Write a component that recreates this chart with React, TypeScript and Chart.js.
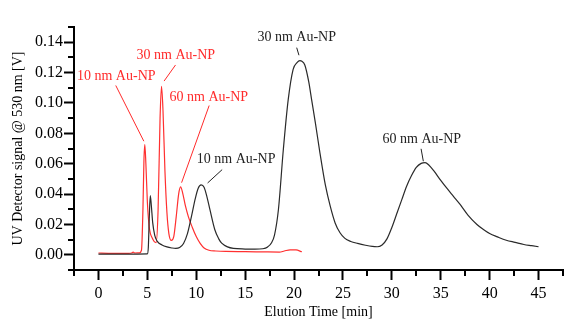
import React, { useEffect, useRef } from "react";
import { Chart, registerables } from "chart.js";

Chart.register(...registerables);

// Elution time [min] and UV detector signal [V]
const blackTime = [0, 2, 4, 5.0, 5.1, 5.2, 5.3, 5.4, 5.55, 5.75, 6.0, 6.5, 7.0, 7.5, 7.9, 8.3, 8.7, 9.1, 9.5, 9.9, 10.2, 10.5, 10.8, 11.1, 11.4, 11.9, 12.3, 12.6, 13.2, 13.8, 15, 16, 16.8, 17.3, 17.7, 18.0, 18.4, 18.9, 19.4, 19.9, 20.3, 20.6, 20.8, 21.1, 21.5, 21.8, 22.2, 22.65, 23.2, 23.7, 24.2, 24.7, 25.2, 25.8, 26.5, 27.3, 28.0, 28.5, 29.0, 29.5, 30.0, 30.5, 31.0, 31.5, 32.0, 32.5, 33.0, 33.4, 33.8, 34.3, 35.0, 35.6, 36.3, 37.0, 37.8, 38.7, 39.4, 40.0, 40.8, 41.7, 42.6, 43.5, 44.3, 45.0];
const blackSignal = [0.0005, 0.0005, 0.0005, 0.0006, 0.005, 0.025, 0.039, 0.033, 0.021, 0.013, 0.009, 0.0065, 0.0052, 0.0045, 0.0042, 0.0048, 0.0075, 0.014, 0.025, 0.037, 0.0438, 0.046, 0.0445, 0.038, 0.0297, 0.0165, 0.0105, 0.0077, 0.0052, 0.0042, 0.0038, 0.0037, 0.004, 0.0052, 0.008, 0.013, 0.0297, 0.069, 0.102, 0.122, 0.1265, 0.1278, 0.1275, 0.125, 0.114, 0.102, 0.086, 0.067, 0.046, 0.032, 0.021, 0.0145, 0.0108, 0.0088, 0.0075, 0.0063, 0.0055, 0.0053, 0.0065, 0.0105, 0.018, 0.027, 0.036, 0.045, 0.052, 0.0575, 0.0602, 0.0607, 0.059, 0.0552, 0.049, 0.044, 0.0385, 0.033, 0.026, 0.02, 0.0165, 0.014, 0.0118, 0.0096, 0.0082, 0.0068, 0.006, 0.0053];

const redTime = [0, 1, 2, 3, 3.4, 3.55, 3.7, 4.2, 4.4, 4.55, 4.65, 4.74, 4.85, 5.0, 5.2, 5.5, 5.9, 6.1, 6.3, 6.45, 6.6, 6.8, 7.0, 7.2, 7.45, 7.7, 7.95, 8.2, 8.4, 8.6, 8.9, 9.2, 9.6, 10.0, 10.4, 10.8, 11.3, 12, 13, 15, 17, 18.5, 19.0, 19.6, 20.2, 20.8];
const redSignal = [0.0012, 0.001, 0.0009, 0.001, 0.0012, 0.0018, 0.0012, 0.0013, 0.003, 0.03, 0.062, 0.0726, 0.06, 0.035, 0.018, 0.011, 0.008, 0.03, 0.09, 0.111, 0.095, 0.055, 0.028, 0.014, 0.0095, 0.012, 0.025, 0.04, 0.0447, 0.041, 0.032, 0.025, 0.018, 0.012, 0.0075, 0.0045, 0.003, 0.0025, 0.0022, 0.0021, 0.0019, 0.0018, 0.0025, 0.0033, 0.0032, 0.002];

const xTicks = [0, 5, 10, 15, 20, 25, 30, 35, 40, 45];
const xMinorTicks = [-2.5, 2.5, 7.5, 12.5, 17.5, 22.5, 27.5, 32.5, 37.5, 42.5, 47.5];
const yTicks = [0, 0.02, 0.04, 0.06, 0.08, 0.1, 0.12, 0.14];
const yMinorTicks = [-0.01, 0.01, 0.03, 0.05, 0.07, 0.09, 0.11, 0.13, 0.15];

// Peak labels: text, colour, label position, leader line start and end (data units)
const annText = ["10 nm Au-NP", "30 nm Au-NP", "60 nm Au-NP", "10 nm Au-NP", "30 nm Au-NP", "60 nm Au-NP"];
const annColor = ["#ff2a2a", "#ff2a2a", "#ff2a2a", "#222", "#222", "#222"];
const annAt = [[1.82, 0.1175], [7.91, 0.1314], [11.29, 0.1038], [14.08, 0.0627], [20.27, 0.143], [33.06, 0.0759]];
const annFrom = [[1.77, 0.1115], [7.88, 0.125], [11.32, 0.0983], [12.65, 0.0561], [20.27, 0.1364], [32.99, 0.0698]];
const annTo = [[4.64, 0.0748], [6.71, 0.1144], [8.5, 0.0475], [11.16, 0.0473], [20.5, 0.1314], [33.22, 0.0616]];

const FONT = '"Liberation Serif", "Times New Roman", serif';

const extrasPlugin = {
  id: "extras",
  afterDraw(chart: any) {
    const { ctx, scales } = chart;
    const xs = scales.x;
    const ys = scales.y;
    ctx.save();
    ctx.strokeStyle = "#000";
    ctx.lineWidth = 2;
    xMinorTicks.forEach((v) => {
      const px = Math.round(xs.getPixelForValue(v));
      ctx.beginPath();
      ctx.moveTo(px, xs.top);
      ctx.lineTo(px, xs.top + 6);
      ctx.stroke();
    });
    yMinorTicks.forEach((v) => {
      const py = Math.round(ys.getPixelForValue(v));
      ctx.beginPath();
      ctx.moveTo(ys.right, py);
      ctx.lineTo(ys.right - 6, py);
      ctx.stroke();
    });
    ctx.font = "14px " + FONT;
    ctx.textAlign = "center";
    ctx.textBaseline = "middle";
    annText.forEach((t, i) => {
      ctx.fillStyle = annColor[i];
      ctx.strokeStyle = annColor[i];
      ctx.lineWidth = 1;
      ctx.fillText(t, xs.getPixelForValue(annAt[i][0]), ys.getPixelForValue(annAt[i][1]));
      ctx.beginPath();
      ctx.moveTo(xs.getPixelForValue(annFrom[i][0]), ys.getPixelForValue(annFrom[i][1]));
      ctx.lineTo(xs.getPixelForValue(annTo[i][0]), ys.getPixelForValue(annTo[i][1]));
      ctx.stroke();
    });
    ctx.restore();
  },
};

export default function App() {
  const ref = useRef<HTMLCanvasElement>(null);
  useEffect(() => {
    const chart = new Chart(ref.current!, {
      type: "line",
      data: {
        datasets: [
          {
            data: blackTime.map((t, i) => ({ x: t, y: blackSignal[i] })),
            borderColor: "#2a2a2a",
            borderWidth: 1.2,
            pointRadius: 0,
            cubicInterpolationMode: "monotone",
          },
          {
            data: redTime.map((t, i) => ({ x: t, y: redSignal[i] })),
            borderColor: "#ff3030",
            borderWidth: 1.2,
            pointRadius: 0,
            cubicInterpolationMode: "monotone",
          },
        ],
      },
      options: {
        animation: false,
        responsive: false,
        devicePixelRatio: 1,
        layout: { padding: { top: 27, right: 17, left: 0, bottom: 0 } },
        plugins: { legend: { display: false }, tooltip: { enabled: false } },
        scales: {
          x: {
            type: "linear",
            min: -2.5,
            max: 47.5,
            afterBuildTicks: (s: any) => {
              s.ticks = xTicks.map((v) => ({ value: v }));
            },
            afterFit: (s: any) => {
              s.height = 56;
            },
            ticks: {
              color: "#000",
              font: { family: FONT, size: 16 },
              padding: 4,
              maxRotation: 0,
              callback: (v: any) => String(v),
            },
            grid: { drawOnChartArea: false, tickLength: 10, tickWidth: 2, tickColor: "#000" },
            border: { color: "#000", width: 2 },
            title: {
              display: true,
              text: "Elution Time [min]",
              color: "#000",
              font: { family: FONT, size: 14 },
              padding: { top: 0, bottom: 5 },
            },
          },
          y: {
            type: "linear",
            min: -0.01,
            max: 0.15,
            afterBuildTicks: (s: any) => {
              s.ticks = yTicks.map((v) => ({ value: v }));
            },
            afterFit: (s: any) => {
              s.width = 74;
            },
            ticks: {
              color: "#000",
              font: { family: FONT, size: 16 },
              padding: 1,
              callback: (v: any) => Number(v).toFixed(2),
            },
            grid: { drawOnChartArea: false, tickLength: 10, tickWidth: 2, tickColor: "#000" },
            border: { color: "#000", width: 2 },
            title: {
              display: true,
              text: "UV Detector signal @ 530 nm [V]",
              color: "#000",
              font: { family: FONT, size: 14 },
              padding: { top: 10, bottom: 0 },
            },
          },
        },
      },
      plugins: [extrasPlugin],
    } as any);
    return () => chart.destroy();
  }, []);
  return (
    <div style={{ position: "fixed", left: 0, top: 0, width: 580, height: 326, background: "#fff" }}>
      <canvas ref={ref} width={580} height={326} />
    </div>
  );
}
